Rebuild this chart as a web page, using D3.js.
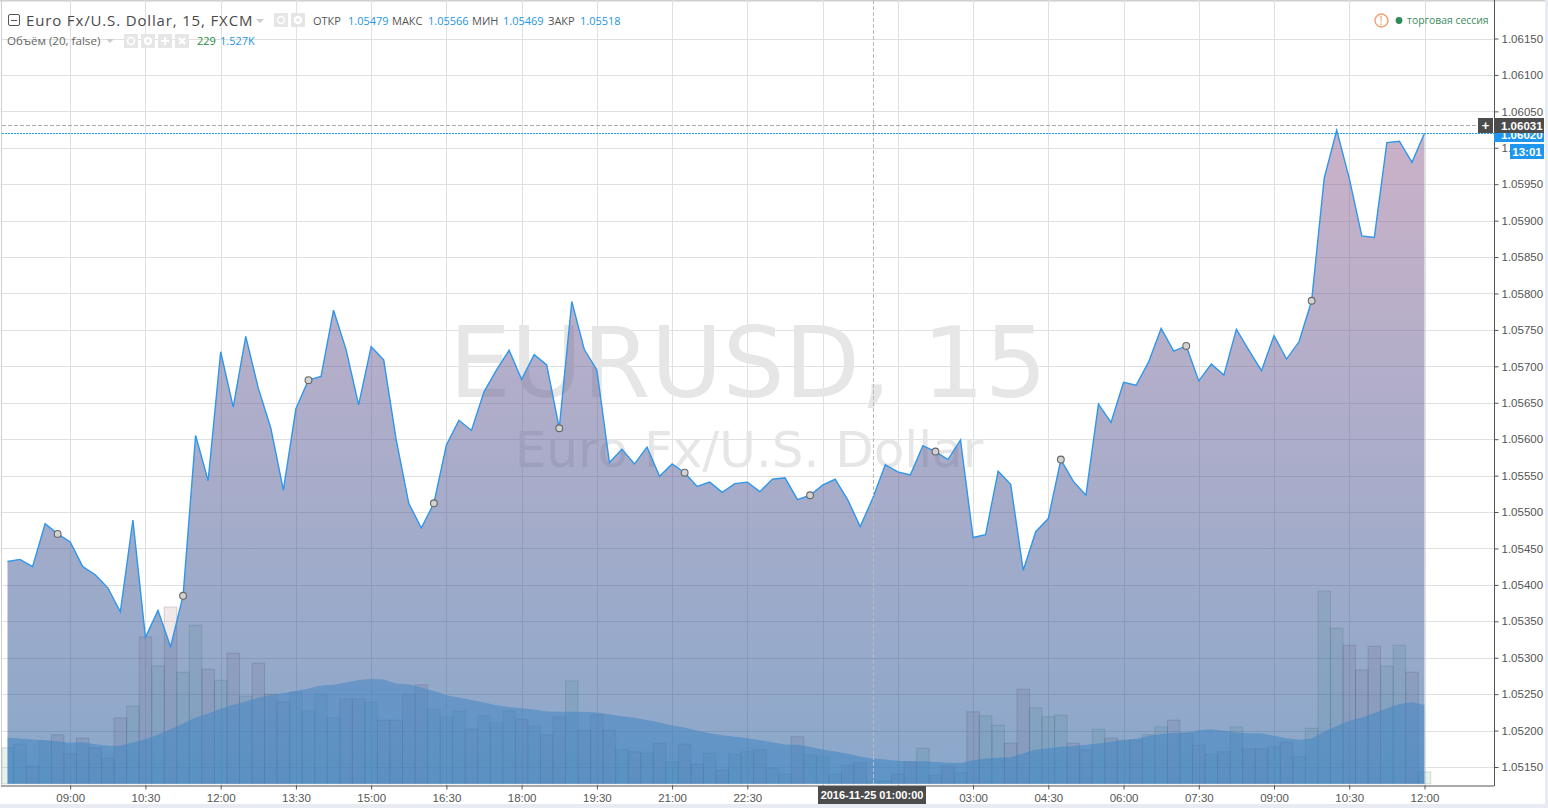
<!DOCTYPE html>
<html>
<head>
<meta charset="utf-8">
<title>EURUSD, 15</title>
<script src="https://cdn.jsdelivr.net/npm/d3@7/dist/d3.min.js"></script>
<style>
    html, body { margin: 0; padding: 0; background: #fff; overflow: hidden; }
    svg { display: block; }
    .legend text { font-family: "Open Sans", "Noto Sans", sans-serif; }
    .axis text { font-family: "Liberation Sans", Arial, sans-serif; font-size: 11.5px; fill: #555; }
    .axis path, .axis line { stroke: #555; }
    .grid line { stroke: #e0e0e0; shape-rendering: crispEdges; }
    .tag { font-family: "Liberation Sans", Arial, sans-serif; font-size: 11.5px; font-weight: bold; fill: #fff; }
</style>
</head>
<body>
<div class="container"></div>
<script>
//close of every 15 min bar
var closes = [
    1.05432, 1.05435, 1.05425, 1.05484, 1.05470, 1.05459, 1.05425, 1.05414, 1.05396, 1.05363,
    1.05489, 1.05328, 1.05365, 1.05315, 1.05385, 1.05605, 1.05543, 1.05720, 1.05644, 1.05741,
    1.05670, 1.05615, 1.05530, 1.05642, 1.05681, 1.05686, 1.05777, 1.05723, 1.05647, 1.05727,
    1.05709, 1.05599, 1.05512, 1.05478, 1.05512, 1.05592, 1.05626, 1.05612, 1.05665, 1.05695,
    1.05722, 1.05682, 1.05716, 1.05702, 1.05615, 1.05789, 1.05723, 1.05695, 1.05568, 1.05586,
    1.05566, 1.05589, 1.05549, 1.05566, 1.05554, 1.05535, 1.05541, 1.05527, 1.05539, 1.05541,
    1.05528, 1.05545, 1.05547, 1.05517, 1.05523, 1.05537, 1.05545, 1.05517, 1.05480, 1.05519,
    1.05565, 1.05555, 1.05551, 1.05591, 1.05583, 1.05572, 1.05599, 1.05465, 1.05469, 1.05556,
    1.05538, 1.05420, 1.05473, 1.05491, 1.05572, 1.05542, 1.05523, 1.05648, 1.05623, 1.05678,
    1.05674, 1.05706, 1.05752, 1.05721, 1.05728, 1.05680, 1.05703, 1.05688, 1.05751, 1.05722,
    1.05694, 1.05742, 1.05710, 1.05734, 1.05790, 1.05958, 1.06024, 1.05958, 1.05879, 1.05877,
    1.06007, 1.06009, 1.05980, 1.06020
];
var volumes = [
    695, 766, 342, 824, 946, 579, 882, 689, 496, 1274,
    1500, 2837, 2277, 3416, 2156, 3063, 2214, 2001, 2523, 1693,
    2330, 1731, 1583, 1776, 1409, 1731, 1274, 1641, 1641, 1577,
    1229, 1229, 1731, 1911, 1442, 1293, 1403, 1056, 1312, 1177,
    1409, 1249, 1119, 946, 1293, 1988, 1036, 1332, 1036, 656,
    618, 593, 786, 425, 766, 380, 593, 264, 573, 618,
    656, 303, 187, 907, 560, 521, 187, 361, 405, 44,
    58, 187, 425, 689, 168, 342, 218, 1390, 1312, 1133,
    786, 1828, 1467, 1293, 1326, 786, 656, 1056, 882, 843,
    843, 946, 1100, 1229, 979, 747, 573, 618, 1100, 676,
    676, 714, 805, 521, 1075, 3725, 3005, 2677, 2200, 2658,
    2272, 2677, 2156, 229
];
var volumeMA = [
    894, 874, 855, 843, 824, 791, 805, 766, 733, 733,
    797, 863, 946, 1056, 1164, 1280, 1357, 1448, 1525, 1588,
    1666, 1718, 1756, 1795, 1839, 1897, 1916, 1955, 2007, 2027,
    2013, 1936, 1924, 1859, 1795, 1712, 1666, 1621, 1569, 1519,
    1486, 1461, 1434, 1395, 1390, 1390, 1390, 1376, 1345, 1307,
    1274, 1235, 1183, 1125, 1087, 1023, 979, 940, 907, 882,
    843, 805, 758, 753, 714, 662, 623, 579, 527, 488,
    469, 444, 430, 438, 419, 405, 400, 457, 488, 502,
    515, 585, 662, 689, 714, 728, 753, 778, 811, 843,
    869, 926, 959, 984, 984, 1036, 1056, 1023, 990, 979,
    979, 926, 882, 849, 874, 1009, 1119, 1216, 1280, 1370,
    1453, 1544, 1577, 1527
];
//bars that carry a small round marker on the line
var markerBars = [4, 14, 24, 34, 44, 54, 64, 74, 84, 94, 104];
//bottom axis, the two empty labels sit under the crosshair date
var timeBars = [5, 11, 17, 23, 29, 35, 41, 47, 53, 59, 65, 71, 77, 83, 89, 95, 101, 107, 113];
var timeLabels = ["09:00", "10:30", "12:00", "13:30", "15:00", "16:30", "18:00", "19:30", "21:00", "22:30",
    "", "", "03:00", "04:30", "06:00", "07:30", "09:00", "10:30", "12:00"];
var priceTicks = [1.0515, 1.052, 1.0525, 1.053, 1.0535, 1.054, 1.0545, 1.055, 1.0555, 1.056, 1.0565,
    1.057, 1.0575, 1.058, 1.0585, 1.059, 1.0595, 1.06, 1.0605, 1.061, 1.0615];
var lastPrice = 1.0602, crossPrice = 1.06031, crossBar = 69;
var crossDate = "2016-11-25 01:00:00", countdown = "13:01";

//page and pane frame
var width = 1548, height = 808,
    paneLeft = 2, paneRight = 1494, paneBottom = 785.5, volBase = 783.8;

var svg = d3.select(".container")
    .append("svg")
    .attr("width", width)
    .attr("height", height);

var x = d3.scaleLinear().domain([0, 113]).range([7.5, 1424.5]);
var y = d3.scaleLinear().domain([1.0515, 1.0615]).range([767, 38.5]);
var yVol = d3.scaleLinear().domain([0, 3725]).range([volBase, 591]);
var barWidth = x(1) - x(0);

var defs = svg.append("defs");
var grad = defs.append("linearGradient")
    .attr("id", "areaFill")
    .attr("gradientUnits", "userSpaceOnUse")
    .attr("x1", 0).attr("x2", 0)
    .attr("y1", 130).attr("y2", paneBottom);
grad.append("stop").attr("offset", 0).attr("stop-color", "rgb(150,100,145)").attr("stop-opacity", 0.5);
grad.append("stop").attr("offset", 1).attr("stop-color", "rgb(20,80,150)").attr("stop-opacity", 0.5);

//outer frame
svg.append("rect").attr("x", 0).attr("y", 804).attr("width", width).attr("height", 4).attr("fill", "#e9ebf2");
svg.append("rect").attr("x", 1545).attr("y", 0).attr("width", 3).attr("height", height).attr("fill", "#e9ebf2");
svg.append("rect").attr("x", 0).attr("y", 0).attr("width", 1545).attr("height", 1.5).attr("fill", "#cfcfcf");
svg.append("rect").attr("x", 1).attr("y", 0).attr("width", 1).attr("height", paneBottom).attr("fill", "#cfcfcf");

//grid
var grid = svg.append("g").attr("class", "grid");
grid.selectAll(".gridY")
    .data(priceTicks)
    .enter()
    .append("line")
    .attr("x1", paneLeft).attr("x2", paneRight)
    .attr("y1", function (d) { return Math.round(y(d)) + 0.5; })
    .attr("y2", function (d) { return Math.round(y(d)) + 0.5; });
grid.selectAll(".gridX")
    .data(timeBars)
    .enter()
    .append("line")
    .attr("y1", 0).attr("y2", paneBottom)
    .attr("x1", function (d) { return Math.round(x(d)) + 0.5; })
    .attr("x2", function (d) { return Math.round(x(d)) + 0.5; });

//watermark
svg.append("text")
    .attr("x", 748).attr("y", 397)
    .attr("text-anchor", "middle")
    .style("font-family", "DejaVu Sans")
    .style("font-size", "98px")
    .style("fill", "#e6e6e6")
    .text("EURUSD, 15");
svg.append("text")
    .attr("x", 749).attr("y", 467)
    .attr("text-anchor", "middle")
    .style("font-family", "DejaVu Sans")
    .style("font-size", "50px")
    .style("fill", "#e6e6e6")
    .text("Euro Fx/U.S. Dollar");

//volume bars
svg.selectAll(".bar")
    .data(volumes)
    .enter()
    .append("rect")
    .attr("class", "bar")
    .attr("x", function (d, i) { return Math.max(x(i) - barWidth / 2, 2); })
    .attr("width", function (d, i) { return i === 0 ? x(0) + barWidth / 2 - 2 : barWidth; })
    .attr("y", function (d) { return yVol(d); })
    .attr("height", function (d) { return volBase - yVol(d); })
    .style("fill", function (d, i) {
        return (i === 0 || closes[i] >= closes[i - 1]) ? "rgba(95,170,125,0.15)" : "rgba(170,110,120,0.16)";
    })
    .style("stroke", function (d, i) {
        return (i === 0 || closes[i] >= closes[i - 1]) ? "rgba(60,110,90,0.2)" : "rgba(100,70,80,0.22)";
    })
    .style("stroke-width", 1);

//volume moving average
var maArea = d3.area()
    .x(function (d, i) { return x(i); })
    .y0(volBase)
    .y1(function (d) { return yVol(d); });
svg.append("path")
    .datum(volumeMA)
    .attr("d", maArea)
    .style("fill", "rgb(100,185,240)")
    .style("fill-opacity", 0.55);

//price area and line
var priceArea = d3.area()
    .x(function (d, i) { return x(i); })
    .y0(volBase)
    .y1(function (d) { return y(d); });
var priceLine = d3.line()
    .x(function (d, i) { return x(i); })
    .y(function (d) { return y(d); });
svg.append("path")
    .datum(closes)
    .attr("d", priceArea)
    .style("fill", "url(#areaFill)");
svg.append("path")
    .datum(closes)
    .attr("d", priceLine)
    .style("fill", "none")
    .style("stroke", "#2f96ea")
    .style("stroke-width", 1.4)
    .style("stroke-linejoin", "miter");

//round markers
svg.selectAll(".marker")
    .data(markerBars)
    .enter()
    .append("circle")
    .attr("class", "marker")
    .attr("cx", function (d) { return x(d); })
    .attr("cy", function (d) { return y(closes[d]); })
    .attr("r", 3.4)
    .style("fill", "#d2d2d2")
    .style("stroke", "#666")
    .style("stroke-width", 1.1);

//crosshair and last price line, the blue one goes on top
svg.append("line")
    .attr("x1", paneLeft).attr("x2", 1478)
    .attr("y1", Math.round(y(crossPrice)) + 0.5).attr("y2", Math.round(y(crossPrice)) + 0.5)
    .style("stroke", "#aaa")
    .style("stroke-dasharray", "4,2");
svg.append("line")
    .attr("x1", Math.round(x(crossBar)) + 0.5).attr("x2", Math.round(x(crossBar)) + 0.5)
    .attr("y1", 0).attr("y2", paneBottom)
    .style("stroke", "#bbb")
    .style("stroke-dasharray", "4,2");

//axes
var xAxis = d3.axisBottom(x)
    .tickValues(timeBars)
    .tickSize(4)
    .tickPadding(4)
    .tickFormat(function (d, i) { return timeLabels[i]; });
var gx = svg.append("g")
    .attr("class", "axis")
    .attr("transform", "translate(0," + paneBottom + ")")
    .call(xAxis);
gx.select(".domain").attr("d", "M1,0.5H" + paneRight);

var yAxis = d3.axisRight(y)
    .tickValues(priceTicks)
    .tickSize(4)
    .tickPadding(3)
    .tickFormat(function (d) { return d.toFixed(5); });
var gy = svg.append("g")
    .attr("class", "axis")
    .attr("transform", "translate(" + (paneRight + 0.5) + ",0)")
    .call(yAxis);
gy.select(".domain").attr("d", "M0,0V" + (paneBottom + 0.5));

svg.append("line")
    .attr("x1", paneLeft).attr("x2", paneRight)
    .attr("y1", Math.round(y(lastPrice)) + 0.5).attr("y2", Math.round(y(lastPrice)) + 0.5)
    .attr("shape-rendering", "crispEdges")
    .style("stroke", "#1e9bf0")
    .style("stroke-dasharray", "2,1");

//price tags on the right axis
function tag(x0, y0, w, h, color, label, textX, anchor, size) {
    svg.append("rect")
        .attr("x", x0).attr("y", y0)
        .attr("width", w).attr("height", h)
        .attr("fill", color);
    svg.append("text")
        .attr("class", "tag")
        .attr("x", textX).attr("y", y0 + h / 2 + 4)
        .attr("text-anchor", anchor || "start")
        .style("font-size", size ? size + "px" : null)
        .text(label);
}
tag(1494, 128, 50, 14, "#1e96f0", lastPrice.toFixed(5), 1501);
tag(1494, 118, 50, 15, "#4c4c4c", crossPrice.toFixed(5), 1501);
tag(1478, 118, 15, 15, "#4c4c4c", "+", 1485.5, "middle", 13);
tag(1510, 144, 34, 15, "#1e96f0", countdown, 1527, "middle");
tag(818, 786, 108, 18, "#4c4c4c", crossDate, 872, "middle", 11);

//legend rows
var legend = svg.append("g").attr("class", "legend");

function legendText(xPos, yPos, str, color, size) {
    return legend.append("text")
        .attr("x", xPos).attr("y", yPos)
        .style("font-size", (size || 11) + "px")
        .style("fill", color)
        .text(str);
}
//small pale button, glyph is "eye", "gear", "plus" or "cross"
function iconBox(xPos, yPos, size, glyph) {
    var cx = xPos + size / 2, cy = yPos + size / 2;
    legend.append("rect")
        .attr("x", xPos).attr("y", yPos)
        .attr("width", size).attr("height", size)
        .attr("fill", "#e6e6e6");
    if (glyph === "plus" || glyph === "cross") {
        legend.append("path")
            .attr("d", glyph === "plus"
                ? "M" + (cx - 4) + "," + cy + "h8M" + cx + "," + (cy - 4) + "v8"
                : "M" + (cx - 3) + "," + (cy - 3) + "l6,6M" + (cx + 3) + "," + (cy - 3) + "l-6,6")
            .attr("stroke", "#fff")
            .attr("stroke-width", 2)
            .attr("fill", "none");
    } else {
        legend.append("circle")
            .attr("cx", cx).attr("cy", cy)
            .attr("r", glyph === "gear" ? 3 : 3.5)
            .attr("fill", "none")
            .attr("stroke", "#fff")
            .attr("stroke-width", glyph === "gear" ? 2.4 : 1.5);
    }
}
function caret(xPos, yPos) {
    legend.append("path")
        .attr("d", "M" + xPos + "," + yPos + "h8l-4,4z")
        .attr("fill", "#ccc");
}

legend.append("rect")
    .attr("x", 8.5).attr("y", 14.5).attr("width", 11).attr("height", 11)
    .attr("rx", 1.5)
    .attr("fill", "#fff").attr("stroke", "#555");
legend.append("line")
    .attr("x1", 11).attr("x2", 17).attr("y1", 20.5).attr("y2", 20.5)
    .attr("stroke", "#555");
legendText(26, 26, "Euro Fx/U.S. Dollar, 15, FXCM", "#4a4a4a", 15)
    .style("letter-spacing", "0.85px");
caret(256, 19);
iconBox(274, 13, 14, "eye");
iconBox(291, 13, 14, "gear");
legendText(313, 25, "ОТКР", "#555");
legendText(348, 25, "1.05479", "#1e96e0");
legendText(392, 25, "МАКС", "#555");
legendText(428, 25, "1.05566", "#1e96e0");
legendText(472, 25, "МИН", "#555");
legendText(503, 25, "1.05469", "#1e96e0");
legendText(548, 25, "ЗАКР", "#555");
legendText(580, 25, "1.05518", "#1e96e0");

legendText(7, 45, "Объём (20, false)", "#666", 11.6);
caret(106, 39);
iconBox(124, 34, 14, "eye");
iconBox(141, 34, 14, "gear");
iconBox(158, 34, 14, "plus");
iconBox(175, 34, 14, "cross");
legendText(197, 45, "229", "#1e8c3c");
legendText(220, 45, "1.527K", "#1e96e0");

//session status, top right
legend.append("circle")
    .attr("cx", 1381.5).attr("cy", 20.5).attr("r", 6.5)
    .attr("fill", "#fff").attr("stroke", "#f0a070").attr("stroke-width", 1.4);
legendText(1379.5, 25, "!", "#f0a070", 12);
legend.append("circle")
    .attr("cx", 1399).attr("cy", 20.5).attr("r", 3.4)
    .attr("fill", "#2e8b57");
legendText(1407, 24, "торговая сессия", "#3d8a60", 10.4);
</script>
</body>
</html>
